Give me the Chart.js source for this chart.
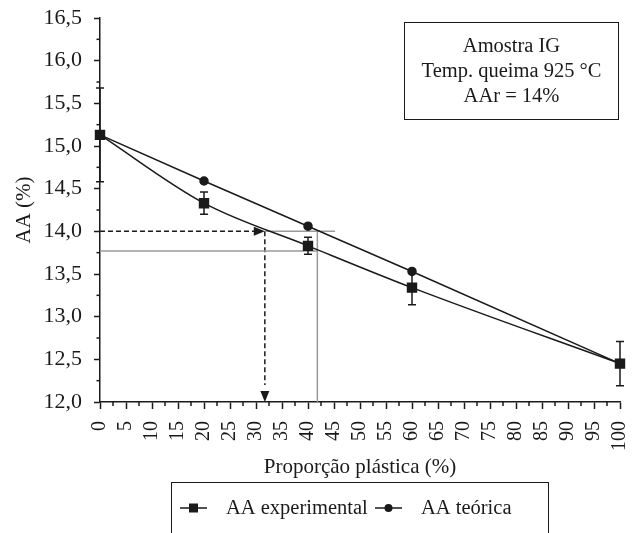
<!DOCTYPE html>
<html>
<head>
<meta charset="utf-8">
<script src="https://cdn.jsdelivr.net/npm/chart.js@4"></script>
<style>
  html, body { margin: 0; padding: 0; background: #fff; }
  #wrap { width: 638px; height: 533px; }
</style>
</head>
<body>
<div id="wrap"><canvas id="chart1" width="638" height="533"></canvas></div>
<script>
// valores
const proporcao = [0, 20, 40, 60, 100];
const aaExp = [15.13, 14.33, 13.83, 13.34, 12.45];
const aaExpErr = [0.55, 0.13, 0.10, 0.20, 0.26];
const aaTeo = [15.13, 14.59, 14.06, 13.53, 12.45];

// linhas de leitura (AAr = 14%)
const aar = 14.0;
const aaLido = 13.77;
const propLida = 31.7;
const propCinza = 41.8;
const fimCinza = 45.2;

const infoLines = ['Amostra IG', 'Temp. queima 925 °C', 'AAr = 14%'];
const serif = "'Liberation Serif', 'DejaVu Serif', serif";
const ink = '#1a1a1a';

const pts = (xs, ys) => xs.map((x, i) => ({x: x, y: ys[i]}));

function guide(data, color, dash) {
  return {
    label: '', data: data, borderColor: color, borderWidth: 1.5,
    borderDash: dash || [], pointRadius: 0, tension: 0, clip: false, guide: true
  };
}

const extras = {
  id: 'extras',
  afterDatasetsDraw(chart) {
    const c = chart.ctx, xs = chart.scales.x, ys = chart.scales.y;
    const a = chart.chartArea;
    c.save();
    c.strokeStyle = ink; c.fillStyle = ink; c.lineWidth = 1.5;

    // minor ticks
    for (let v = 12.25; v < 16.5; v += 0.5) {
      const py = ys.getPixelForValue(v);
      c.beginPath(); c.moveTo(a.left - 3.5, py); c.lineTo(a.left, py); c.stroke();
    }
    for (let v = 2.5; v < 100; v += 5) {
      const px = xs.getPixelForValue(v);
      c.beginPath(); c.moveTo(px, a.bottom); c.lineTo(px, a.bottom + 4); c.stroke();
    }

    // error bars
    proporcao.forEach((p, i) => {
      const px = xs.getPixelForValue(p);
      const hi = ys.getPixelForValue(aaExp[i] + aaExpErr[i]);
      const lo = ys.getPixelForValue(aaExp[i] - aaExpErr[i]);
      c.beginPath();
      c.moveTo(px, hi); c.lineTo(px, lo);
      c.moveTo(px - 4, hi); c.lineTo(px + 4, hi);
      c.moveTo(px - 4, lo); c.lineTo(px + 4, lo);
      c.stroke();
    });

    // arrow heads
    const ax = xs.getPixelForValue(propLida), ay = ys.getPixelForValue(aar);
    c.beginPath(); c.moveTo(ax, ay); c.lineTo(ax - 11, ay - 4.5); c.lineTo(ax - 11, ay + 4.5); c.closePath(); c.fill();
    const by = ys.getPixelForValue(12);
    c.beginPath(); c.moveTo(ax, by); c.lineTo(ax - 4.5, by - 11); c.lineTo(ax + 4.5, by - 11); c.closePath(); c.fill();

    // info box
    c.lineWidth = 1;
    c.strokeRect(404.5, 22.5, 214, 97);
    c.font = '20.5px ' + serif;
    c.textAlign = 'center'; c.textBaseline = 'middle';
    infoLines.forEach((t, i) => c.fillText(t, 511.5, 47 + i * 25));

    // legend
    c.strokeRect(171.5, 482.5, 377, 60);
    c.textAlign = 'left';
    c.font = '20.5px ' + serif;
    const ly = 508;
    const items = chart.data.datasets.filter(d => !d.guide);
    const lx = [180, 375];
    items.forEach((d, i) => {
      const x0 = lx[i];
      c.lineWidth = 1.5;
      c.beginPath(); c.moveTo(x0, ly); c.lineTo(x0 + 27, ly); c.stroke();
      if (d.pointStyle === 'rect') {
        c.fillRect(x0 + 13.5 - 4.5, ly - 4.5, 9, 9);
      } else {
        c.beginPath(); c.arc(x0 + 13.5, ly, 4, 0, Math.PI * 2); c.fill();
      }
      c.fillText(d.label, x0 + 46, ly + 1);
    });
    c.restore();
  }
};

new Chart(document.getElementById('chart1').getContext('2d'), {
  type: 'line',
  data: {
    datasets: [
      {
        label: 'AA experimental', data: pts(proporcao, aaExp),
        borderColor: ink, backgroundColor: ink, borderWidth: 1.5,
        pointStyle: 'rect', pointRadius: 6.3, cubicInterpolationMode: 'monotone', clip: false
      },
      {
        label: 'AA teórica', data: pts(proporcao, aaTeo),
        borderColor: ink, backgroundColor: ink, borderWidth: 1.5,
        pointStyle: 'circle', pointRadius: 4, tension: 0, clip: false
      },
      guide([{x: propLida, y: aar}, {x: fimCinza, y: aar}], '#9a9a9a'),
      guide([{x: 0, y: aaLido}, {x: propCinza, y: aaLido}], '#9a9a9a'),
      guide([{x: propCinza, y: aar}, {x: propCinza, y: 12}], '#9a9a9a'),
      guide([{x: 0, y: aar}, {x: propLida - 4 / 5.2 * 2, y: aar}], ink, [5, 3]),
      guide([{x: propLida, y: aar}, {x: propLida, y: 12.2}], ink, [5, 3])
    ]
  },
  options: {
    responsive: false, animation: false,
    layout: {padding: {left: 0, top: 18, right: 18, bottom: 53}},
    plugins: {legend: {display: false}, tooltip: {enabled: false}},
    scales: {
      x: {
        type: 'linear', min: 0, max: 100,
        afterFit: s => { s.height = 78; s.paddingLeft = 0; s.paddingRight = 0; },
        border: {color: ink, width: 1.5},
        grid: {drawOnChartArea: false, tickLength: 7, tickWidth: 1.5, tickColor: ink},
        ticks: {
          stepSize: 5, autoSkip: false, minRotation: 90, maxRotation: 90, padding: 12,
          color: ink, font: {family: serif, size: 20}
        },
        title: {display: true, text: 'Proporção plástica (%)', color: ink,
          font: {family: serif, size: 21}, padding: {top: 0, bottom: 0}}
      },
      y: {
        type: 'linear', min: 12, max: 16.5,
        afterFit: s => { s.width = 100; s.paddingTop = 0; s.paddingBottom = 0; },
        border: {color: ink, width: 1.5},
        grid: {drawOnChartArea: false, tickLength: 6, tickWidth: 1.5, tickColor: ink},
        ticks: {
          stepSize: 0.5, padding: 12, color: ink, font: {family: serif, size: 22},
          callback: v => v.toFixed(1).replace('.', ',')
        },
        title: {display: true, text: 'AA (%)', color: ink,
          font: {family: serif, size: 21}, padding: {top: 12, bottom: 0}}
      }
    }
  },
  plugins: [extras]
});
</script>
</body>
</html>
